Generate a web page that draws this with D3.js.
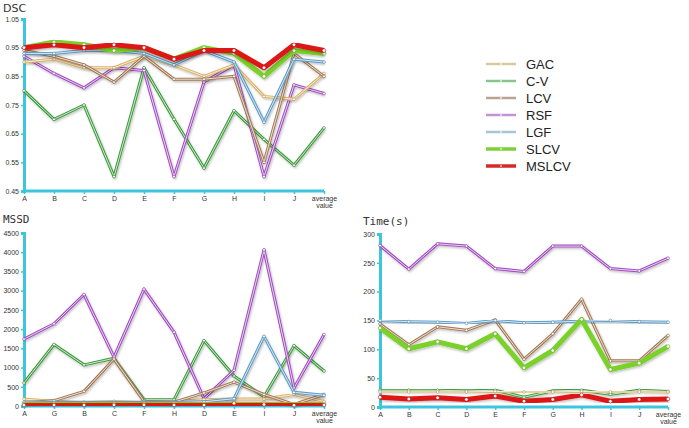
<!DOCTYPE html>
<html>
<head>
<meta charset="utf-8">
<script src="https://cdn.jsdelivr.net/npm/d3@7"></script>
<style>
  body { margin: 0; background: #fff; }
  svg { display: block; }
  .tick text { font-family: "Liberation Sans", Arial, sans-serif; font-size: 7px; fill: #333; }
  .title { font-size: 11px; fill: #333; }
  .legend text { font-family: "Liberation Sans", Arial, sans-serif; font-size: 13px; fill: #222; }
</style>
</head>
<body>
<svg id="canvas" width="689" height="428"></svg>
<script>
// series names and colours
const methods = ['GAC', 'C-V', 'LCV', 'RSF', 'LGF', 'SLCV', 'MSLCV'];
const colors = {
  'GAC': '#dcb367', 'C-V': '#3c9c3c', 'LCV': '#a57a55', 'RSF': '#a24cc2',
  'LGF': '#5d9cc6', 'SLCV': '#79d12a', 'MSLCV': '#dd1515'
};
const legendColors = {
  'GAC': '#d9c9a0', 'C-V': '#86c58c', 'LCV': '#b9a392', 'RSF': '#c493d4',
  'LGF': '#a9c4d8', 'SLCV': '#7fcf3a', 'MSLCV': '#d62a2a'
};
const thick = ['SLCV', 'MSLCV'];
// order in which lines are drawn (last on top)
const drawOrder = ['C-V', 'RSF', 'GAC', 'LCV', 'LGF', 'SLCV', 'MSLCV'];

// DSC
const dscCats = ['A', 'B', 'C', 'D', 'E', 'F', 'G', 'H', 'I', 'J', 'average value'];
const dscTicks = [0.45, 0.55, 0.65, 0.75, 0.85, 0.95, 1.05];
const dscGAC   = [0.90, 0.91, 0.88, 0.88, 0.92, 0.89, 0.85, 0.89, 0.78, 0.77, 0.86];
const dscCV    = [0.80, 0.70, 0.75, 0.50, 0.88, 0.70, 0.53, 0.73, 0.63, 0.54, 0.67];
const dscLCV   = [0.94, 0.92, 0.89, 0.83, 0.92, 0.84, 0.84, 0.85, 0.55, 0.93, 0.85];
const dscRSF   = [0.92, 0.86, 0.81, 0.88, 0.87, 0.50, 0.83, 0.89, 0.50, 0.82, 0.79];
const dscLGF   = [0.93, 0.93, 0.94, 0.94, 0.93, 0.89, 0.94, 0.90, 0.69, 0.91, 0.90];
const dscSLCV  = [0.95, 0.97, 0.96, 0.94, 0.95, 0.91, 0.95, 0.93, 0.85, 0.94, 0.93];
const dscMSLCV = [0.95, 0.96, 0.95, 0.96, 0.95, 0.91, 0.94, 0.94, 0.88, 0.96, 0.94];

// MSSD
const mssdCats = ['A', 'G', 'B', 'C', 'F', 'H', 'D', 'E', 'I', 'J', 'average value'];
const mssdTicks = [0, 500, 1000, 1500, 2000, 2500, 3000, 3500, 4000, 4500];
const mssdGAC   = [180, 120, 100, 120, 100, 120, 165, 180, 180, 300, 120];
const mssdCV    = [600, 1600, 1070, 1240, 165, 165, 1700, 780, 240, 1570, 910];
const mssdLCV   = [80, 140, 380, 1220, 120, 100, 340, 620, 300, 40, 300];
const mssdRSF   = [1740, 2140, 2900, 1270, 3040, 1920, 190, 930, 4060, 470, 1860];
const mssdLGF   = [100, 90, 90, 90, 90, 90, 110, 190, 1810, 355, 280];
const mssdSLCV  = [50, 55, 55, 60, 55, 55, 50, 95, 80, 45, 55];
const mssdMSLCV = [25, 25, 25, 30, 30, 25, 25, 70, 40, 20, 25];

// Time(s)
const timeCats = ['A', 'B', 'C', 'D', 'E', 'F', 'G', 'H', 'I', 'J', 'average value'];
const timeTicks = [0, 50, 100, 150, 200, 250, 300];
const timeGAC   = [26, 26, 26, 26, 27, 26, 26, 27, 26, 26, 26];
const timeCV    = [29, 29, 29, 28, 29, 17, 28, 29, 22, 29, 27];
const timeLCV   = [144, 108, 139, 133, 151, 83, 127, 187, 80, 80, 124];
const timeRSF   = [280, 239, 283, 279, 240, 235, 279, 279, 240, 236, 258];
const timeLGF   = [150, 148, 147, 145, 150, 146, 147, 149, 150, 148, 147];
const timeSLCV  = [137, 101, 113, 101, 127, 68, 98, 152, 65, 76, 105];
const timeMSLCV = [17, 14, 16, 13, 19, 10, 13, 21, 10, 13, 14];

const svg = d3.select('#canvas');
const defs = svg.append('defs');
const f = defs.append('filter').attr('id', 'shadow')
  .attr('x', '-5%').attr('y', '-5%').attr('width', '110%').attr('height', '120%');
f.append('feDropShadow').attr('dx', 1).attr('dy', 1.5).attr('stdDeviation', 1)
  .attr('flood-color', '#000').attr('flood-opacity', 0.25);

let drawPanel = (cfg) => {
  const g = svg.append('g');
  const x = d3.scalePoint().domain(cfg.cats).range([cfg.x0, cfg.x1]);
  const y = d3.scaleLinear().domain([cfg.ticks[0], cfg.ticks[cfg.ticks.length - 1]]).range([cfg.y0, cfg.y1]);

  g.append('text').attr('class', 'title').attr('x', cfg.tx).attr('y', cfg.ty)
    .style('font-family', cfg.titleFont).text(cfg.title);

  // y axis
  const ya = g.append('g').attr('transform', `translate(${cfg.x0},0)`)
    .call(d3.axisLeft(y).tickValues(cfg.ticks).tickSize(3).tickPadding(2)
      .tickFormat(cfg.fmt));
  ya.select('.domain').attr('stroke', '#3cc6dd').attr('stroke-width', 3);
  ya.selectAll('.tick line').attr('stroke', '#3cc6dd').attr('stroke-width', 1.5);

  // x axis
  const xa = g.append('g').attr('transform', `translate(0,${cfg.y0})`)
    .call(d3.axisBottom(x).tickSize(3).tickPadding(2).tickSizeOuter(0));
  xa.select('.domain').attr('stroke', '#3cc6dd').attr('stroke-width', 3)
    .attr('d', `M${cfg.x0},0H${cfg.x1}`);
  xa.selectAll('.tick line').attr('stroke', '#3cc6dd').attr('stroke-width', 1.5);
  xa.selectAll('.tick text').each(function (d) {
    const t = d3.select(this);
    const words = d.split(' ');
    if (words.length > 1) {
      t.text(null);
      words.forEach((w, i) => t.append('tspan').attr('x', 0).attr('dy', i === 0 ? '0.71em' : '1.05em').text(w));
    }
  });

  const line = d3.line().x((d, i) => x(cfg.cats[i])).y(d => y(d));

  drawOrder.forEach(m => {
    const vals = cfg.data[m];
    const w = thick.includes(m) ? 5 : 3;
    const s = g.append('g').attr('filter', 'url(#shadow)');
    s.append('path').attr('d', line(vals)).attr('fill', 'none')
      .attr('stroke', colors[m]).attr('stroke-width', w).attr('stroke-linejoin', 'round');
    if (!thick.includes(m)) {
      s.append('path').attr('d', line(vals)).attr('fill', 'none')
        .attr('stroke', '#fff').attr('stroke-width', 0.9).attr('stroke-opacity', 0.85);
    }
    g.selectAll(null).data(vals).enter().append('circle')
      .attr('cx', (d, i) => x(cfg.cats[i])).attr('cy', d => y(d))
      .attr('r', thick.includes(m) ? 1.8 : 1.4)
      .attr('fill', '#fff').attr('stroke', d3.color(colors[m]).darker(0.6)).attr('stroke-width', 0.6);
  });
};

drawPanel({
  title: 'DSC', titleFont: '"DejaVu Sans", sans-serif', tx: 3, ty: 12,
  cats: dscCats, ticks: dscTicks, fmt: d3.format('.2f'),
  x0: 24, x1: 324, y0: 191, y1: 19,
  data: { 'GAC': dscGAC, 'C-V': dscCV, 'LCV': dscLCV, 'RSF': dscRSF, 'LGF': dscLGF, 'SLCV': dscSLCV, 'MSLCV': dscMSLCV }
});

drawPanel({
  title: 'MSSD', titleFont: '"DejaVu Sans Mono", monospace', tx: 3, ty: 223,
  cats: mssdCats, ticks: mssdTicks, fmt: d3.format('d'),
  x0: 24, x1: 324, y0: 406, y1: 233,
  data: { 'GAC': mssdGAC, 'C-V': mssdCV, 'LCV': mssdLCV, 'RSF': mssdRSF, 'LGF': mssdLGF, 'SLCV': mssdSLCV, 'MSLCV': mssdMSLCV }
});

drawPanel({
  title: 'Time(s)', titleFont: '"DejaVu Sans Mono", monospace', tx: 363, ty: 225,
  cats: timeCats, ticks: timeTicks, fmt: d3.format('d'),
  x0: 380, x1: 668, y0: 407, y1: 234,
  data: { 'GAC': timeGAC, 'C-V': timeCV, 'LCV': timeLCV, 'RSF': timeRSF, 'LGF': timeLGF, 'SLCV': timeSLCV, 'MSLCV': timeMSLCV }
});

// legend
const lg = svg.append('g').attr('class', 'legend');
const ly = d3.scalePoint().domain(methods).range([64, 166]);
methods.forEach(m => {
  const w = thick.includes(m) ? 3.5 : 2.5;
  lg.append('line').attr('x1', 486).attr('x2', 516).attr('y1', ly(m)).attr('y2', ly(m))
    .attr('stroke', legendColors[m]).attr('stroke-width', w);
  lg.append('circle').attr('cx', 501).attr('cy', ly(m)).attr('r', 0.9).attr('fill', '#fff').attr('opacity', 0.8);
  lg.append('text').attr('x', 526).attr('y', ly(m)).attr('dy', '0.36em').text(m);
});
</script>
</body>
</html>
